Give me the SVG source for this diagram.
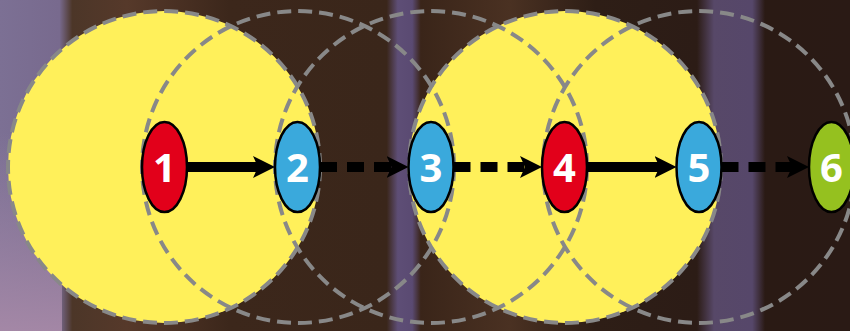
<svg xmlns="http://www.w3.org/2000/svg" width="850" height="331" viewBox="0 0 850 331">
<defs>
<linearGradient id="bg" x1="0" y1="0" x2="850" y2="0" gradientUnits="userSpaceOnUse">
<stop offset="0" stop-color="#7c7094"/>
<stop offset="0.07" stop-color="#786a8e"/>
<stop offset="0.085" stop-color="#4c3628"/>
<stop offset="0.15" stop-color="#56392a"/>
<stop offset="0.27" stop-color="#3c271b"/>
<stop offset="0.455" stop-color="#3a261a"/>
<stop offset="0.468" stop-color="#5e4e76"/>
<stop offset="0.485" stop-color="#5a4a72"/>
<stop offset="0.495" stop-color="#3a2519"/>
<stop offset="0.6" stop-color="#4a3122"/>
<stop offset="0.7" stop-color="#2e1e16"/>
<stop offset="0.82" stop-color="#2c1c16"/>
<stop offset="0.84" stop-color="#574868"/>
<stop offset="0.885" stop-color="#56476a"/>
<stop offset="0.9" stop-color="#2a1a14"/>
<stop offset="1" stop-color="#2a1a15"/>
</linearGradient>
<linearGradient id="lowleft" x1="0" y1="0" x2="0" y2="331" gradientUnits="userSpaceOnUse">
<stop offset="0.4" stop-color="#a088a8" stop-opacity="0"/>
<stop offset="1" stop-color="#a88aa8" stop-opacity="0.9"/>
</linearGradient>
<marker id="arrow" markerUnits="userSpaceOnUse" markerWidth="24" markerHeight="24" refX="10" refY="11" orient="auto" viewBox="0 0 24 22">
<path d="M0,0 L22,11 L0,22 L5,11 Z" fill="#000"/>
</marker>
<style>
.zone{fill:#fff05a;stroke:#888;stroke-width:4;stroke-dasharray:14 7}
.ring{fill:none;stroke:#888;stroke-width:4;stroke-dasharray:14 7}
.node ellipse{stroke:#000;stroke-width:2.5}
.red{fill:#e2001a}
.blue{fill:#3aa9dc}
.green{fill:#95c11f}
.node text{font-family:"Open Sans","DejaVu Sans",sans-serif;font-weight:bold;font-size:40px;fill:#fff;text-anchor:middle}
.conn{stroke:#000;stroke-width:10;fill:none;marker-end:url(#arrow)}
.dash{stroke-dasharray:17 10}
</style>
</defs>
<g id="background">
<rect width="850" height="331" fill="url(#bg)"/>
<rect width="62" height="331" fill="url(#lowleft)"/>
</g>
<g id="zones">
<circle class="zone" cx="164" cy="167" r="156"/>
<circle class="zone" cx="565" cy="167" r="156"/>
<circle class="ring" cx="298" cy="167" r="156"/>
<circle class="ring" cx="431" cy="167" r="156"/>
<circle class="ring" cx="699" cy="167" r="156"/>
</g>
<g id="connectors">
<line class="conn" x1="187" y1="167" x2="263" y2="167"/>
<line class="conn dash" x1="320" y1="167" x2="396.5" y2="167"/>
<line class="conn dash" x1="453.5" y1="167" x2="530" y2="167"/>
<line class="conn" x1="587" y1="167" x2="664.5" y2="167"/>
<line class="conn dash" x1="721.5" y1="167" x2="797" y2="167"/>
</g>
<g id="node1" class="node"><ellipse class="red" cx="164.5" cy="167" rx="22.5" ry="45"/><text x="164.5" y="182">1</text></g>
<g id="node2" class="node"><ellipse class="blue" cx="297.5" cy="167" rx="22.5" ry="45"/><text x="297.5" y="182">2</text></g>
<g id="node3" class="node"><ellipse class="blue" cx="431" cy="167" rx="22.5" ry="45"/><text x="431" y="182">3</text></g>
<g id="node4" class="node"><ellipse class="red" cx="564.5" cy="167" rx="22.5" ry="45"/><text x="564.5" y="182">4</text></g>
<g id="node5" class="node"><ellipse class="blue" cx="699" cy="167" rx="22.5" ry="45"/><text x="699" y="182">5</text></g>
<g id="node6" class="node"><ellipse class="green" cx="831.5" cy="167" rx="22.5" ry="45"/><text x="831.5" y="182">6</text></g>
</svg>
